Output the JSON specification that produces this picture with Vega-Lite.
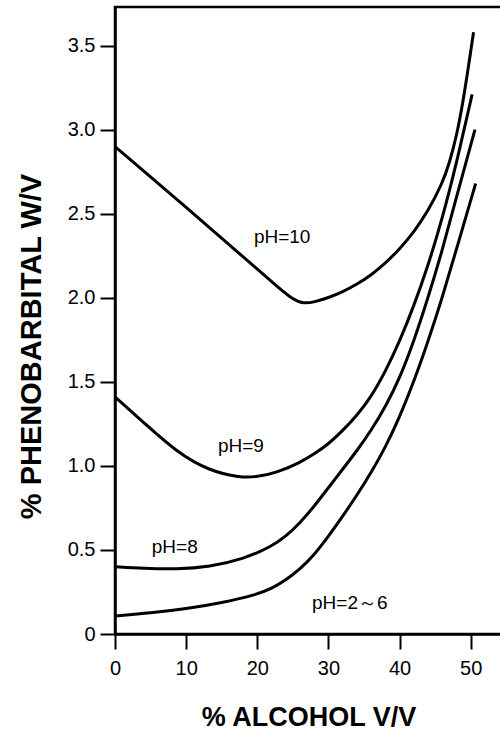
{
  "$schema": "https://vega.github.io/schema/vega-lite/v6.json",
  "autosize": "none",
  "width": 387,
  "height": 627,
  "padding": {"left": 115, "top": 7, "right": 0, "bottom": 99},
  "background": "white",
  "config": {
    "view": {"stroke": "black", "strokeWidth": 2.5},
    "font": "Liberation Sans",
    "axis": {
      "domainColor": "black", "domainWidth": 2.5,
      "tickColor": "black", "tickWidth": 2, "tickSize": 15,
      "labelColor": "black", "labelFont": "Liberation Sans",
      "labelFontSize": 20, "grid": false,
      "titleColor": "black", "titleFont": "Liberation Sans",
      "titleFontWeight": "bold"
    }
  },
  "datasets": {
    "curves": [
      {"series": "pH10", "alcohol": 0, "pheno": 2.90},
      {"series": "pH10", "alcohol": 10, "pheno": 2.54},
      {"series": "pH10", "alcohol": 20, "pheno": 2.17},
      {"series": "pH10", "alcohol": 23, "pheno": 2.06},
      {"series": "pH10", "alcohol": 25, "pheno": 1.99},
      {"series": "pH10", "alcohol": 26.5, "pheno": 1.965},
      {"series": "pH10", "alcohol": 28, "pheno": 1.975},
      {"series": "pH10", "alcohol": 30, "pheno": 2.0},
      {"series": "pH10", "alcohol": 32, "pheno": 2.035},
      {"series": "pH10", "alcohol": 34, "pheno": 2.08},
      {"series": "pH10", "alcohol": 36, "pheno": 2.135},
      {"series": "pH10", "alcohol": 38, "pheno": 2.205},
      {"series": "pH10", "alcohol": 40, "pheno": 2.29},
      {"series": "pH10", "alcohol": 42, "pheno": 2.39},
      {"series": "pH10", "alcohol": 44, "pheno": 2.515},
      {"series": "pH10", "alcohol": 46, "pheno": 2.68},
      {"series": "pH10", "alcohol": 47, "pheno": 2.80},
      {"series": "pH10", "alcohol": 48, "pheno": 2.96},
      {"series": "pH10", "alcohol": 49, "pheno": 3.18},
      {"series": "pH10", "alcohol": 50.4, "pheno": 3.58},

      {"series": "pH9", "alcohol": 0, "pheno": 1.41},
      {"series": "pH9", "alcohol": 4, "pheno": 1.26},
      {"series": "pH9", "alcohol": 8.7, "pheno": 1.08},
      {"series": "pH9", "alcohol": 13.3, "pheno": 0.97},
      {"series": "pH9", "alcohol": 17.6, "pheno": 0.93},
      {"series": "pH9", "alcohol": 20, "pheno": 0.935},
      {"series": "pH9", "alcohol": 22.8, "pheno": 0.96},
      {"series": "pH9", "alcohol": 26, "pheno": 1.02},
      {"series": "pH9", "alcohol": 28, "pheno": 1.07},
      {"series": "pH9", "alcohol": 30, "pheno": 1.13},
      {"series": "pH9", "alcohol": 32, "pheno": 1.21},
      {"series": "pH9", "alcohol": 34, "pheno": 1.30},
      {"series": "pH9", "alcohol": 36, "pheno": 1.41},
      {"series": "pH9", "alcohol": 38, "pheno": 1.56},
      {"series": "pH9", "alcohol": 40, "pheno": 1.74},
      {"series": "pH9", "alcohol": 42, "pheno": 1.95},
      {"series": "pH9", "alcohol": 44, "pheno": 2.19},
      {"series": "pH9", "alcohol": 46, "pheno": 2.47},
      {"series": "pH9", "alcohol": 48, "pheno": 2.80},
      {"series": "pH9", "alcohol": 50.2, "pheno": 3.21},

      {"series": "pH8", "alcohol": 0, "pheno": 0.40},
      {"series": "pH8", "alcohol": 4, "pheno": 0.39},
      {"series": "pH8", "alcohol": 8.7, "pheno": 0.385},
      {"series": "pH8", "alcohol": 13.3, "pheno": 0.40},
      {"series": "pH8", "alcohol": 18, "pheno": 0.445},
      {"series": "pH8", "alcohol": 22, "pheno": 0.52},
      {"series": "pH8", "alcohol": 24, "pheno": 0.58},
      {"series": "pH8", "alcohol": 26, "pheno": 0.66},
      {"series": "pH8", "alcohol": 28, "pheno": 0.76},
      {"series": "pH8", "alcohol": 30, "pheno": 0.87},
      {"series": "pH8", "alcohol": 32, "pheno": 0.98},
      {"series": "pH8", "alcohol": 34, "pheno": 1.09},
      {"series": "pH8", "alcohol": 36, "pheno": 1.21},
      {"series": "pH8", "alcohol": 38, "pheno": 1.35},
      {"series": "pH8", "alcohol": 40, "pheno": 1.52},
      {"series": "pH8", "alcohol": 42, "pheno": 1.74},
      {"series": "pH8", "alcohol": 44, "pheno": 2.00},
      {"series": "pH8", "alcohol": 46, "pheno": 2.28},
      {"series": "pH8", "alcohol": 48, "pheno": 2.60},
      {"series": "pH8", "alcohol": 50.6, "pheno": 3.00},

      {"series": "pH2-6", "alcohol": 0, "pheno": 0.107},
      {"series": "pH2-6", "alcohol": 5, "pheno": 0.125},
      {"series": "pH2-6", "alcohol": 10, "pheno": 0.15},
      {"series": "pH2-6", "alcohol": 15, "pheno": 0.185},
      {"series": "pH2-6", "alcohol": 20, "pheno": 0.235},
      {"series": "pH2-6", "alcohol": 22, "pheno": 0.27},
      {"series": "pH2-6", "alcohol": 24, "pheno": 0.32},
      {"series": "pH2-6", "alcohol": 26, "pheno": 0.385},
      {"series": "pH2-6", "alcohol": 28, "pheno": 0.47},
      {"series": "pH2-6", "alcohol": 30, "pheno": 0.58},
      {"series": "pH2-6", "alcohol": 32, "pheno": 0.70},
      {"series": "pH2-6", "alcohol": 34, "pheno": 0.825},
      {"series": "pH2-6", "alcohol": 36, "pheno": 0.96},
      {"series": "pH2-6", "alcohol": 38, "pheno": 1.11},
      {"series": "pH2-6", "alcohol": 40, "pheno": 1.29},
      {"series": "pH2-6", "alcohol": 42, "pheno": 1.50},
      {"series": "pH2-6", "alcohol": 44, "pheno": 1.74},
      {"series": "pH2-6", "alcohol": 46, "pheno": 2.00},
      {"series": "pH2-6", "alcohol": 48, "pheno": 2.29},
      {"series": "pH2-6", "alcohol": 50.7, "pheno": 2.68}
    ],
    "labels": [
      {"alcohol": 23.5, "pheno": 2.36, "label": "pH=10"},
      {"alcohol": 17.7, "pheno": 1.12, "label": "pH=9"},
      {"alcohol": 8.4, "pheno": 0.52, "label": "pH=8"},
      {"alcohol": 33.0, "pheno": 0.185, "label": "pH=2～6"}
    ]
  },
  "layer": [
    {
      "data": {"name": "curves"},
      "mark": {"type": "line", "color": "black", "strokeWidth": 3, "interpolate": "basis", "clip": true},
      "encoding": {
        "x": {
          "field": "alcohol", "type": "quantitative",
          "scale": {"domain": [0, 54.4], "nice": false, "zero": false},
          "axis": {
            "title": "% ALCOHOL V/V",
            "titleFontSize": 27,
            "values": [0, 5, 10, 15, 20, 25, 30, 35, 40, 45, 50],
            "labelExpr": "datum.value % 10 === 0 ? datum.label : ''",
            "labelPadding": 9, "labelFlush": false,
            "titleY": 91, "titleBaseline": "alphabetic"
          }
        },
        "y": {
          "field": "pheno", "type": "quantitative",
          "scale": {"domain": [0, 3.73], "nice": false},
          "axis": {
            "title": "% PHENOBARBITAL W/V",
            "titleFontSize": 29,
            "values": [0, 0.5, 1, 1.5, 2, 2.5, 3, 3.5],
            "labelExpr": "datum.value === 0 ? '0' : format(datum.value, '.1f')",
            "labelPadding": 5, "labelFlush": false,
            "titleX": -75, "titleY": 339, "titleAngle": -90,
            "titleBaseline": "alphabetic", "titleAlign": "center"
          }
        },
        "detail": {"field": "series", "type": "nominal"}
      }
    },
    {
      "data": {"name": "labels"},
      "mark": {"type": "text", "color": "black", "fontSize": 19, "font": "Liberation Sans", "align": "center", "baseline": "middle"},
      "encoding": {
        "x": {"field": "alcohol", "type": "quantitative"},
        "y": {"field": "pheno", "type": "quantitative"},
        "text": {"field": "label", "type": "nominal"}
      }
    }
  ]
}
